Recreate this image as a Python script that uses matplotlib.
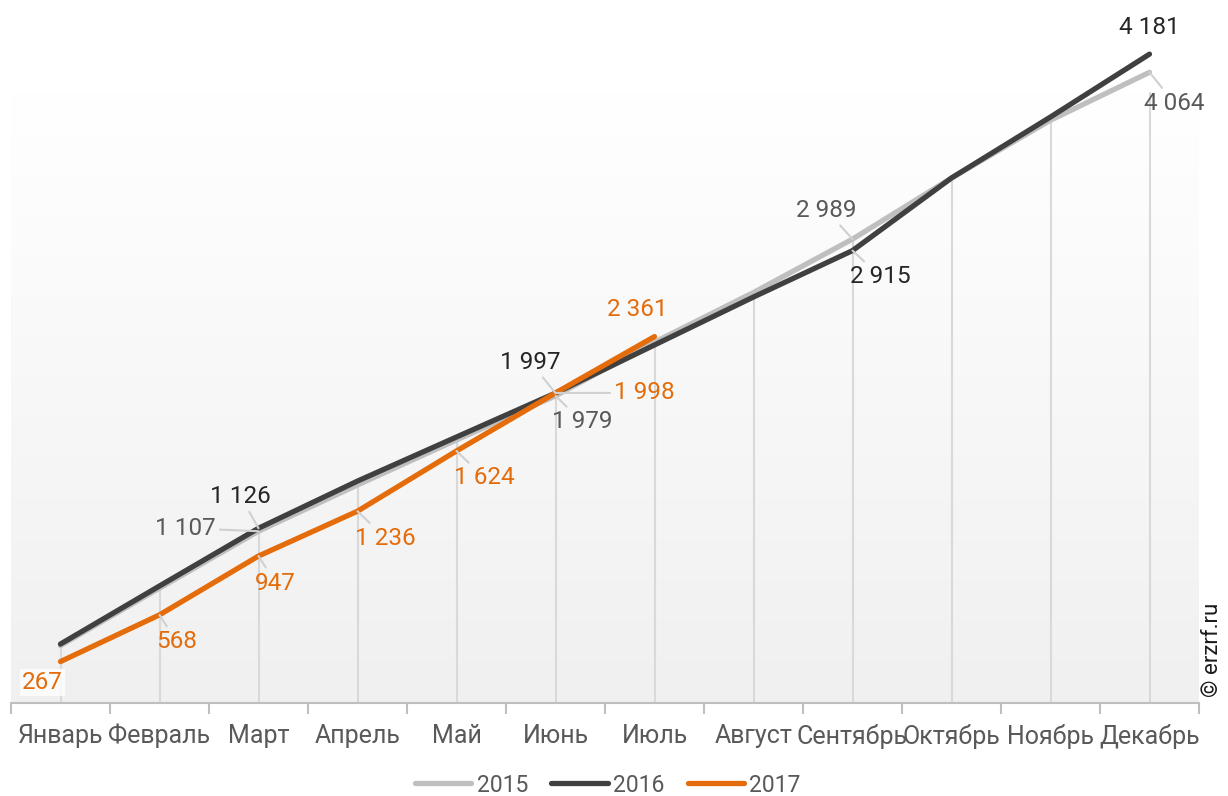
import matplotlib.pyplot as plt
import numpy as np
from matplotlib.colors import LinearSegmentedColormap

plt.rcParams['font.family'] = ['Roboto', 'DejaVu Sans']

# ---------------------------------------------------------
# DATA
# ---------------------------------------------------------
months = ['Январь', 'Февраль', 'Март', 'Апрель', 'Май', 'Июнь',
          'Июль', 'Август', 'Сентябрь', 'Октябрь', 'Ноябрь', 'Декабрь']
vals_2015 = [370, 740, 1107, 1405, 1695, 1979, 2325, 2645, 2989, 3383, 3755, 4064]
vals_2016 = [380, 754, 1126, 1430, 1714, 1997, 2307, 2616, 2915, 3383, 3776, 4181]
vals_2017 = [267, 568, 947, 1236, 1624, 1998, 2361]

C15, C16, C17 = '#bfbfbf', '#404040', '#e46c0a'
TXT = '#595959'
FS_LBL = 17.5
FS_TICK = 18


def fmt(v):
    return f'{v:,}'.replace(',', ' ')


fig = plt.figure(figsize=(12.28, 7.96), dpi=100)
ax = fig.add_axes([11 / 1228, 93 / 796, 1188 / 1228, 611 / 796])
x = np.arange(len(months))
ytop = 3937
ax.set_xlim(-0.5, 11.5)
ax.set_ylim(0, ytop)

# plot area fill: light gray at the bottom fading to white
cmap = LinearSegmentedColormap.from_list('bg', ['#f0f0f0', '#ffffff'])
grad = np.linspace(0, 1, 256).reshape(-1, 1)
ax.imshow(grad, extent=[-0.5, 11.5, 0, ytop], origin='lower', cmap=cmap,
          aspect='auto', zorder=0)

# drop lines from the highest point of each month
tops = [max(v) for v in zip(vals_2015, vals_2016)]
ax.vlines(x, 0, tops, colors='#d9d9d9', lw=1.5, zorder=1)

kw = dict(lw=3.8, solid_capstyle='round', solid_joinstyle='round', clip_on=False)
ax.plot(x, vals_2015, color=C15, label='2015', zorder=3, **kw)
ax.plot(x, vals_2016, color=C16, label='2016', zorder=4, **kw)
ax.plot(x[:len(vals_2017)], vals_2017, color=C17, label='2017', zorder=5, **kw)

# data labels: (series, index, colour, offset in pixels, leader line)
labels = [
    (vals_2017, 0, C17, (-18, -21), False),
    (vals_2017, 1, C17, (17, -27), True),
    (vals_2017, 2, C17, (17, -27), True),
    (vals_2017, 3, C17, (28, -27), True),
    (vals_2017, 4, C17, (28, -27), True),
    (vals_2017, 5, C17, (89, 0), True),
    (vals_2017, 6, C17, (-17, 27), False),
    (vals_2015, 2, TXT, (-73, 3), True),
    (vals_2015, 5, TXT, (27, -26), True),
    (vals_2015, 8, TXT, (-26, 29), True),
    (vals_2015, 11, TXT, (25, -31), True),
    (vals_2016, 2, '#262626', (-18, 32), True),
    (vals_2016, 5, '#262626', (-25, 31), True),
    (vals_2016, 8, '#262626', (28, -26), True),
    (vals_2016, 11, '#262626', (0, 27), False),
]
for series, i, col, off, leader in labels:
    ap = dict(arrowstyle='-', color='#d0d0d0', lw=1.5,
              shrinkA=1, shrinkB=0) if leader else None
    bbox = dict(boxstyle='square,pad=0.1', fc='white', ec='none', alpha=0.8) if i == 0 else None
    ax.annotate(fmt(series[i]), (x[i], series[i]), xytext=off,
                textcoords='offset pixels', ha='center', va='center',
                fontsize=FS_LBL, color=col, arrowprops=ap, bbox=bbox,
                annotation_clip=False, zorder=6)

# axes styling
for s in ['top', 'right', 'left']:
    ax.spines[s].set_visible(False)
ax.spines['bottom'].set_color(C15)
ax.spines['bottom'].set_linewidth(1.5)
ax.set_yticks([])
ax.set_xticks(x)
ax.set_xticklabels(months, fontsize=FS_TICK, color=TXT)
ax.tick_params(axis='x', which='major', length=0, pad=15)
ax.set_xticks(np.arange(-0.5, 12, 1), minor=True)
ax.tick_params(axis='x', which='minor', length=8, width=1.5, color=C15)

fig.legend(loc='center', bbox_to_anchor=(608 / 1228, 1 - 785 / 796), ncol=3,
           frameon=False, fontsize=16.5, labelcolor=TXT, handlelength=2.45,
           handletextpad=0.25, columnspacing=1.0)

fig.text(1213 / 1228, 1 - 697 / 796, '© erzrf.ru', rotation=90, ha='center',
         va='bottom', fontsize=16, color='#1a1a1a')

fig.savefig('out.png', dpi=100)
